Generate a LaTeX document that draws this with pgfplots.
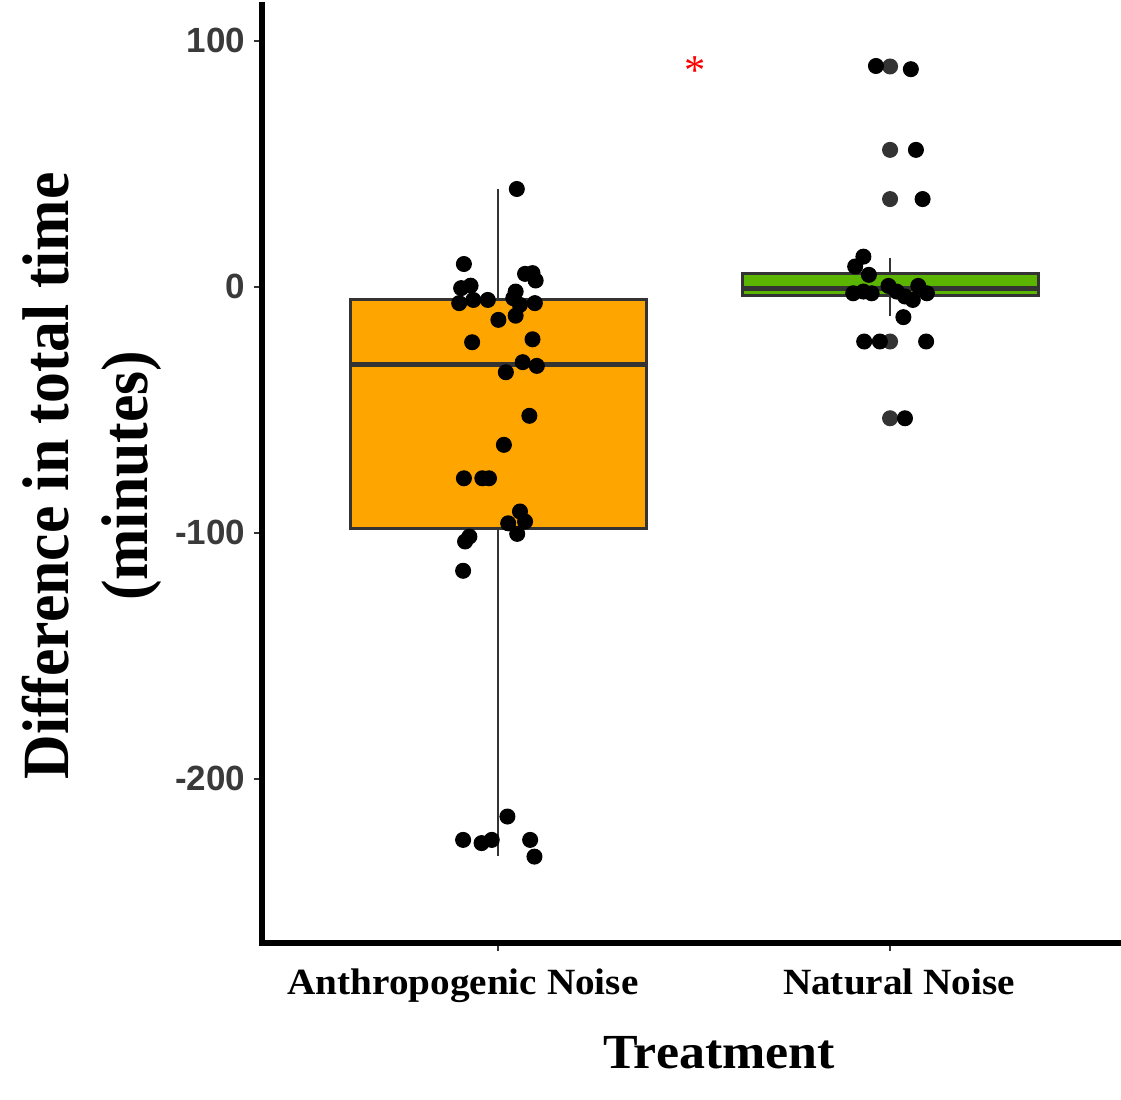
\documentclass[border=0pt]{standalone}
\usepackage{pgfplots}
\pgfplotsset{compat=1.18}
\usetikzlibrary{calc}
\usepackage{fontspec}
\setmainfont{Liberation Serif}
\newfontfamily\ticksans{Liberation Sans}
\newfontfamily\labelserif[FakeStretch=1.06]{Liberation Serif}
\newfontfamily\ylabserif[FakeStretch=0.935]{Liberation Serif}
\definecolor{boxline}{HTML}{333333}
\definecolor{anthro}{HTML}{FFA500}
\definecolor{natural}{HTML}{5AB400}
\definecolor{ticktext}{HTML}{3A3A3A}

\begin{document}
\begin{tikzpicture}
\begin{axis}[
  scale only axis, width=343.6pt, height=375.2pt,
  xmin=0.398, xmax=2.589, ymin=-266.7, ymax=114.6,
  axis x line=bottom, axis y line=left,
  axis line style={line width=2.4pt, black, -, line cap=rect},
  tick align=outside, major tick length=3.2pt,
  tick style={line width=0.8pt, boxline},
  ytick={-200,-100,0,100}, yticklabels={-200,-100,0,100},
  yticklabel style={font=\ticksans\bfseries\fontsize{14}{16}\selectfont, text=ticktext},
  xtick={1,2},
  xticklabels={{\hspace*{-28pt}Anthropogenic Noise},{Natural Noise\hspace*{-7.2pt}}},
  xticklabel style={font=\labelserif\bfseries\fontsize{14.8}{17}\selectfont, text=black,
    yshift=-3.6pt},
  xlabel={Treatment},
  xlabel style={font=\labelserif\bfseries\fontsize{19.6}{23}\selectfont,
    at={(axis description cs:0.532,-0.1333)}, anchor=base},
  ylabel={Difference in total time\\(minutes)},
  ylabel style={font=\ylabserif\bfseries\fontsize{26.4}{31.6}\selectfont, align=center,
    at={(axis description cs:-0.198,0.498)}, anchor=center},
]
% Anthropogenic Noise: whiskers, box, median
\addplot[boxline, line width=1pt] coordinates {(1,39.8) (1,-5.0)};
\addplot[boxline, line width=1pt] coordinates {(1,-98.1) (1,-231.5)};
\addplot[draw=boxline, line width=1.2pt, fill=anthro]
  coordinates {(0.6225,-98.1) (1.3775,-98.1) (1.3775,-5.0) (0.6225,-5.0)} -- cycle;
\addplot[boxline, line width=2pt] coordinates {(0.6225,-31.7) (1.3775,-31.7)};

% Natural Noise: whiskers, box, median
\addplot[boxline, line width=1pt] coordinates {(2,11.7) (2,5.3)};
\addplot[boxline, line width=1pt] coordinates {(2,-3.7) (2,-11.8)};
\addplot[draw=boxline, line width=1.2pt, fill=natural]
  coordinates {(1.6225,-3.7) (2.3775,-3.7) (2.3775,5.3) (1.6225,5.3)} -- cycle;
\addplot[boxline, line width=2pt] coordinates {(1.6225,-0.8) (2.3775,-0.8)};

% outliers of the natural noise box
\addplot[only marks, mark=*, mark size=3pt, mark options={draw=boxline, fill=boxline}]
  coordinates {(2,89.6) (2,55.7) (2,35.7) (2,-22.2) (2,-53.4)};

% jittered observations
\addplot[only marks, mark=*, mark size=3pt, mark options={draw=black, fill=black}]
  coordinates {
  (1.048,39.8) (0.913,9.3) (1.069,5.3) (1.088,5.6) (1.096,2.6)
  (0.906,-0.5) (0.930,0.5) (0.901,-6.6) (0.937,-5.3) (0.974,-5.3)
  (1.045,-1.9) (1.039,-4.6) (1.056,-7.3) (1.094,-6.6)
  (1.001,-13.4) (1.045,-11.7) (0.934,-22.5) (1.088,-21.3)
  (1.063,-30.6) (1.099,-32.1) (1.020,-34.7) (1.080,-52.4) (1.015,-64.2)
  (0.913,-77.8) (0.960,-77.8) (0.977,-77.8)
  (1.056,-91.3) (1.069,-95.4) (1.026,-96.1) (1.049,-100.4)
  (0.927,-101.5) (0.916,-103.5) (0.911,-115.4)
  (1.024,-215.3) (0.911,-224.8) (0.958,-226.1) (0.984,-224.8) (1.082,-224.8) (1.093,-231.6)
  };
\addplot[only marks, mark=*, mark size=3pt, mark options={draw=black, fill=black}]
  coordinates {
  (1.964,89.8) (2.053,88.5) (2.066,55.7) (2.083,35.7)
  (1.932,12.3) (1.911,8.3) (1.946,4.9)
  (1.906,-2.6) (1.932,-1.9) (1.953,-2.6)
  (1.996,0.4) (2.017,-1.9) (2.038,-3.9) (2.058,-5.3)
  (2.072,0.4) (2.094,-2.6) (2.034,-12.3)
  (1.934,-22.2) (1.974,-22.2) (2.092,-22.2) (2.038,-53.4)
  };

\node[anchor=north, inner sep=0pt, text=red, font=\fontsize{17}{20}\selectfont]
  at (axis cs:1.503,93.6) {*};
\end{axis}
\pgfresetboundingbox
\path[use as bounding box] ($(current axis.south west)+(-104.8pt,-62.8pt)$)
  rectangle ($(current axis.north east)+(0pt,2pt)$);
\end{tikzpicture}
\end{document}
